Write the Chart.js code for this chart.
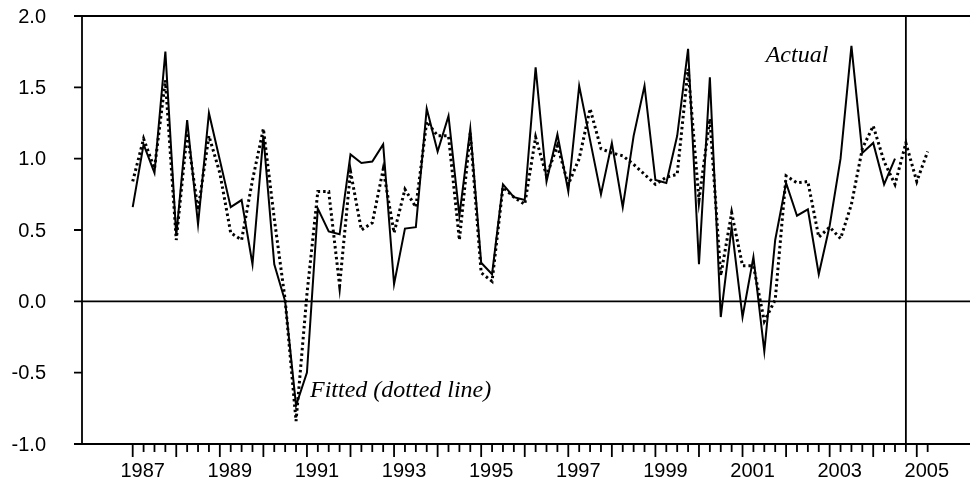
<!DOCTYPE html>
<html>
<head>
<meta charset="utf-8">
<script src="https://cdn.jsdelivr.net/npm/chart.js@4"></script>
<style>
  html, body { margin: 0; padding: 0; background: #fff; }
</style>
</head>
<body>
<canvas id="fitChart" width="970" height="481"></canvas>
<script>
  // Quarterly series, first observation 1987Q1
  const startYear = 1987;

  const actual = [
    0.66, 1.10, 0.90, 1.75, 0.46, 1.27, 0.54, 1.32, 0.99, 0.66,
    0.71, 0.26, 1.16, 0.26, 0.00, -0.73, -0.50, 0.65, 0.49, 0.47,
    1.03, 0.97, 0.98, 1.10, 0.12, 0.51, 0.52, 1.35, 1.05, 1.30,
    0.60, 1.21, 0.27, 0.19, 0.82, 0.73, 0.71, 1.64, 0.84, 1.17,
    0.77, 1.51, 1.13, 0.75, 1.11, 0.66, 1.16, 1.51, 0.85, 0.83,
    1.16, 1.77, 0.26, 1.57, -0.11, 0.52, -0.11, 0.31, -0.35, 0.43,
    0.83, 0.60, 0.645, 0.19, 0.53, 1.00, 1.79, 1.04, 1.11, 0.82,
    1.00
  ];

  const fitted = [
    0.84, 1.14, 0.93, 1.55, 0.43, 1.18, 0.64, 1.16, 0.90, 0.48,
    0.43, 0.85, 1.21, 0.58, 0.01, -0.84, 0.05, 0.77, 0.77, 0.11,
    0.91, 0.50, 0.55, 0.925, 0.48, 0.785, 0.66, 1.26, 1.16, 1.16,
    0.43, 1.18, 0.20, 0.14, 0.80, 0.73, 0.68, 1.15, 0.88, 1.09,
    0.82, 1.00, 1.35, 1.07, 1.04, 1.02, 0.96, 0.89, 0.82, 0.87,
    0.89, 1.63, 0.71, 1.28, 0.18, 0.62, 0.25, 0.25, -0.14, 0.01,
    0.88, 0.83, 0.84, 0.45, 0.52, 0.44, 0.68, 1.07, 1.23, 0.98,
    0.82, 1.11, 0.84, 1.05
  ];

  const yearLabels = [1987, 1989, 1991, 1993, 1995, 1997, 1999, 2001, 2003, 2005];
  const yTicks = [-1.0, -0.5, 0.0, 0.5, 1.0, 1.5, 2.0];

  // end of the sample / start of the forecast period
  const forecastStart = 2004.75;

  const toPoints = (values) => values.map((v, i) => ({ x: startYear + i / 4, y: v }));

  const tickFont = '20px "Liberation Sans", Arial, sans-serif';
  const noteFont = 'italic 24px "Liberation Serif", "Times New Roman", serif';

  // frame, reference lines, axis ticks and labels
  const axesPlugin = {
    id: 'axes',
    beforeDatasetsDraw(chart) {
      const { ctx, chartArea: a, scales: { x, y } } = chart;
      ctx.save();
      ctx.strokeStyle = '#000';
      ctx.lineWidth = 1.8;
      ctx.beginPath();
      const y0 = y.getPixelForValue(0);
      ctx.moveTo(a.left, y0);
      ctx.lineTo(a.right, y0);
      const xf = x.getPixelForValue(forecastStart);
      ctx.moveTo(xf, a.top);
      ctx.lineTo(xf, a.bottom);
      ctx.stroke();
      ctx.restore();
    },
    afterDraw(chart) {
      const { ctx, chartArea: a, scales: { x, y } } = chart;
      ctx.save();
      ctx.strokeStyle = '#000';
      ctx.fillStyle = '#000';
      ctx.lineWidth = 1.8;

      // top and left border, bottom axis
      ctx.beginPath();
      ctx.moveTo(a.right, a.top);
      ctx.lineTo(a.left, a.top);
      ctx.lineTo(a.left, a.bottom);
      ctx.lineTo(a.right, a.bottom);
      ctx.stroke();

      // quarterly ticks on the time axis, longer ones at each year
      const nTicks = fitted.length;
      ctx.beginPath();
      for (let i = 0; i < nTicks; i++) {
        const px = x.getPixelForValue(startYear + i / 4);
        const len = i % 4 === 0 ? 13 : 8;
        ctx.moveTo(px, a.bottom);
        ctx.lineTo(px, a.bottom + len);
      }
      // value ticks on the left axis
      yTicks.forEach(v => {
        const py = y.getPixelForValue(v);
        ctx.moveTo(a.left, py);
        ctx.lineTo(a.left - 8, py);
      });
      ctx.stroke();

      ctx.font = tickFont;
      ctx.textAlign = 'center';
      ctx.textBaseline = 'alphabetic';
      yearLabels.forEach(yr => {
        ctx.fillText(String(yr), x.getPixelForValue(yr) + 10, a.bottom + 33);
      });

      ctx.textAlign = 'right';
      ctx.textBaseline = 'middle';
      yTicks.forEach(v => {
        ctx.fillText(v.toFixed(1), 46, y.getPixelForValue(v) + 1);
      });

      ctx.font = noteFont;
      ctx.textBaseline = 'alphabetic';
      ctx.textAlign = 'center';
      ctx.fillText('Actual', x.getPixelForValue(2002.25), y.getPixelForValue(1.68));
      ctx.textAlign = 'left';
      ctx.fillText('Fitted (dotted line)', x.getPixelForValue(1991.07), y.getPixelForValue(-0.67));
      ctx.restore();
    }
  };

  new Chart(document.getElementById('fitChart'), {
    type: 'line',
    data: {
      datasets: [
        {
          label: 'Actual',
          data: toPoints(actual),
          borderColor: '#000',
          borderWidth: 2,
          pointRadius: 0,
          tension: 0,
        },
        {
          label: 'Fitted',
          data: toPoints(fitted),
          borderColor: '#000',
          borderWidth: 3,
          borderDash: [2.5, 3],
          borderCapStyle: 'butt',
          pointRadius: 0,
          tension: 0,
        },
      ],
    },
    options: {
      responsive: false,
      animation: false,
      layout: { padding: { left: 82, top: 16, right: 0, bottom: 37 } },
      plugins: {
        legend: { display: false },
        tooltip: { enabled: false },
      },
      scales: {
        x: { type: 'linear', display: false, min: 1985.836, max: 2006.222 },
        y: { type: 'linear', display: false, min: -1.0, max: 2.0 },
      },
    },
    plugins: [axesPlugin],
  });
</script>
</body>
</html>
